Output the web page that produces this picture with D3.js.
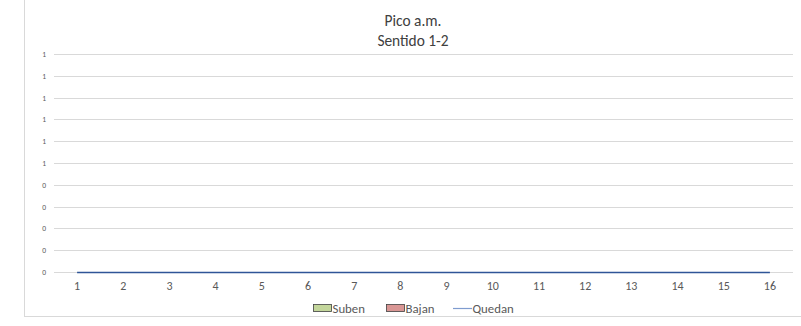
<!DOCTYPE html>
<html><head><meta charset="utf-8">
<script src="https://cdn.jsdelivr.net/npm/d3@7"></script>
<style>body{margin:0;background:#fff}svg{display:block}text{font-family:Carlito,"Open Sans",sans-serif}</style>
</head><body><svg id="c" width="801" height="326"></svg>
<script>
const categories = ["1","2","3","4","5","6","7","8","9","10","11","12","13","14","15","16"];
const suben = [0,0,0,0,0,0,0,0,0,0,0,0,0,0,0,0];
const bajan = [0,0,0,0,0,0,0,0,0,0,0,0,0,0,0,0];
const quedan = [0,0,0,0,0,0,0,0,0,0,0,0,0,0,0,0];
const yTicks = [0,0.1,0.2,0.3,0.4,0.5,0.6,0.7,0.8,0.9,1];
const titleLines = ["Pico a.m.","Sentido 1-2"];
const seriesNames = ["Suben","Bajan","Quedan"];
const colors = {Suben:"#c3d69b", Bajan:"#d99694", Quedan:"#2f5597"};
const FONT = 'Carlito,"Open Sans",sans-serif';

const svg = d3.select("#c");
svg.append("rect").attr("x",24.5).attr("y",-10).attr("width",790).attr("height",326.5)
  .attr("fill","#fff").attr("stroke","#d9d9d9").attr("stroke-width",1);

const x = d3.scaleBand().domain(categories).range([54,793]);
const y = d3.scaleLinear().domain([0,1]).range([272,54]);

const grid = svg.append("g");
yTicks.forEach(t=>{
  grid.append("line").attr("x1",54).attr("x2",793).attr("y1",Math.round(y(t))+0.5).attr("y2",Math.round(y(t))+0.5)
    .attr("stroke","#d9d9d9").attr("stroke-width",1);
});
const yAxis = d3.axisLeft(y).tickValues(yTicks).tickFormat(d=>d3.format(".0f")(d+1e-9)).tickSize(0).tickPadding(0);
const ya = svg.append("g").attr("transform","translate(46,0)").call(yAxis);
ya.select(".domain").remove();
ya.selectAll("text").attr("font-size",7.5).attr("fill","#595959").attr("font-family",FONT);

const xAxis = d3.axisBottom(x).tickSize(0).tickPadding(0);
const xa = svg.append("g").attr("transform","translate(0,290)").call(xAxis);
xa.select(".domain").remove();
xa.selectAll("text").attr("font-size",12).attr("fill","#595959").attr("dy","0").attr("y",0).attr("font-family",FONT);

const bw = x.bandwidth()*0.3;
svg.append("g").selectAll("rect").data(suben).join("rect")
  .attr("x",(d,i)=>x(categories[i])+x.bandwidth()/2-bw).attr("width",bw)
  .attr("y",d=>y(d)).attr("height",d=>y(0)-y(d)).attr("fill",colors.Suben);
svg.append("g").selectAll("rect").data(bajan).join("rect")
  .attr("x",(d,i)=>x(categories[i])+x.bandwidth()/2).attr("width",bw)
  .attr("y",d=>y(d)).attr("height",d=>y(0)-y(d)).attr("fill",colors.Bajan);

const line = d3.line().x((d,i)=>x(categories[i])+x.bandwidth()/2).y(d=>Math.round(y(d))+0.5);
svg.append("path").datum(quedan).attr("d",line).attr("fill","none").attr("stroke",colors.Quedan).attr("stroke-width",1.5);

titleLines.forEach((t,i)=>{
  svg.append("text").attr("x",413).attr("y",26+i*19.5).attr("text-anchor","middle")
    .attr("font-size",15.4).attr("fill","#404040").text(t);
});

// legend
const lg = svg.append("g").attr("font-size",12.8).attr("fill","#595959");
const lx = [313,386,453];
seriesNames.forEach((n,i)=>{
  if(n==="Quedan"){
    lg.append("line").attr("x1",lx[i]).attr("x2",lx[i]+19).attr("y1",308.5).attr("y2",308.5).attr("stroke","#7f9ccf").attr("stroke-width",1.2);
  } else {
    lg.append("rect").attr("x",lx[i]+0.5).attr("y",304.5).attr("width",18).attr("height",7).attr("fill",colors[n]).attr("stroke","#404040").attr("stroke-width",0.8);
  }
  lg.append("text").attr("x",lx[i]+19.5).attr("y",312.5).attr("fill","#595959").text(n);
});
</script></body></html>
